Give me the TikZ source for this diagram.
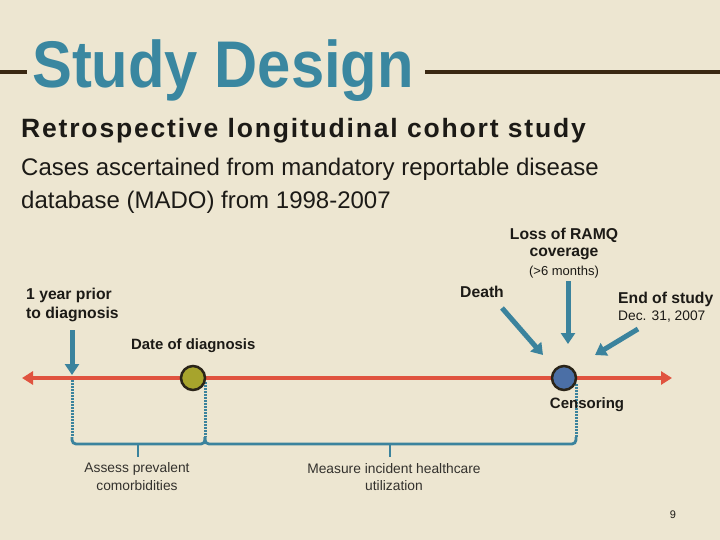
\documentclass[tikz,border=0pt]{standalone}
\usepackage{fontspec}
\setmainfont{Liberation Sans}
\usetikzlibrary{arrows.meta}
\definecolor{bg}{HTML}{EDE6D1}
\definecolor{teal1}{HTML}{3A87A0}
\definecolor{teal2}{HTML}{3B839D}
\definecolor{rule}{HTML}{3A2812}
\definecolor{red1}{HTML}{E0533F}
\definecolor{olive}{HTML}{A7A42C}
\definecolor{blue1}{HTML}{4B6FA6}
\definecolor{ring}{HTML}{2A2418}
\definecolor{ink}{HTML}{1C1A16}
\tikzset{
  lbl/.style={inner sep=0pt, text=ink, font=\bfseries\fontsize{15.7}{18}\selectfont},
  sml/.style={inner sep=0pt, text=ink, font=\fontsize{13.8}{16}\selectfont},
  ptr/.style={draw=teal2, line width=5pt, -{Triangle[width=14pt,length=11pt]}},
  dots/.style={draw=teal2, line width=3pt, dash pattern=on 2pt off 1pt},
  brace/.style={draw=teal2, line width=2.8pt, rounded corners=4pt},
  dot/.style={circle, minimum size=24pt, inner sep=0pt, draw=ring, line width=2.5pt}
}
\begin{document}
\begin{tikzpicture}[x=1pt,y=-1pt]
\fill[bg] (0,0) rectangle (720,540);
\useasboundingbox (0,0) rectangle (720,540);
% title
\node[anchor=base west, inner sep=0pt, text=teal1] (title) at (32,88)
  {\scalebox{0.905}[1]{\bfseries\fontsize{66}{70}\selectfont Study Design}};
\draw[rule, line width=4pt] (0,72) -- (27,72);
\draw[rule, line width=4pt] (425,72) -- (720,72);
% subtitle
\node[anchor=base west, inner sep=0pt, text=ink, font=\bfseries\fontsize{26.5}{30}\selectfont\addfontfeature{LetterSpace=6.9}] (sub) at (21,138) {Retrospective longitudinal cohort study};
\node[anchor=base west, inner sep=0pt, text=ink, font=\fontsize{24}{28}\selectfont] (cases1) at (21,176) {Cases ascertained from mandatory reportable disease};
\node[anchor=base west, inner sep=0pt, text=ink, font=\fontsize{24}{28}\selectfont] (cases2) at (21,209) {database (MADO) from 1998-2007};
% labels
\node[lbl] (loss1) at (564,235) {Loss of RAMQ};
\node[lbl] (loss2) at (564,254) {coverage};
\node[sml, font=\fontsize{13}{15}\selectfont] (loss3) at (564,272) {(>6 months)};
\node[lbl, anchor=west] (death) at (460,292) {Death};
\node[lbl, anchor=west] (end1) at (618,299) {End of study};
\node[sml, anchor=west] (end2) at (618,317) {Dec. 31, 2007};
\node[lbl, anchor=west] (yr1) at (26,295) {1 year prior};
\node[lbl, anchor=west] (yr2) at (26,314) {to diagnosis};
\node[lbl, anchor=west, font=\bfseries\fontsize{14.9}{17}\selectfont] (dod) at (131,346) {Date of diagnosis};
% timeline
\coordinate (tl) at (22,378);
\coordinate (tr) at (672,378);
\draw[red1, line width=4pt, {Triangle[width=13pt,length=11pt]}-{Triangle[width=13pt,length=11pt]}] (tl) -- (tr);
% pointer arrows
\coordinate (a1s) at (72,330); \coordinate (a1e) at (72,375);
\coordinate (a2s) at (502,308); \coordinate (a2e) at (543,355);
\coordinate (a3s) at (568,281); \coordinate (a3e) at (568,344);
\coordinate (a4s) at (638,329); \coordinate (a4e) at (595,355);
\draw[ptr] (a1s) -- (a1e);
\draw[ptr] (a2s) -- (a2e);
\draw[ptr] (a3s) -- (a3e);
\draw[ptr] (a4s) -- (a4e);
% dotted drops and braces
\coordinate (d1t) at (72,380); \coordinate (d1b) at (72,437);
\coordinate (d2t) at (205,382); \coordinate (d2b) at (205,437);
\coordinate (d3t) at (576,384); \coordinate (d3b) at (576,437);
\draw[dots] (d1t) -- (d1b);
\draw[dots] (d2t) -- (d2b);
\draw[dots] (d3t) -- (d3b);
\draw[brace] (d1b) -- (72,444) -- (205,444) -- (d2b);
\draw[brace] (d2b) -- (205,444) -- (576,444) -- (d3b);
\coordinate (k1) at (138,444); \coordinate (k1e) at (138,457);
\coordinate (k2) at (390,444); \coordinate (k2e) at (390,457);
\draw[draw=teal2, line width=2.8pt] (k1) -- (k1e);
\draw[draw=teal2, line width=2.8pt] (k2) -- (k2e);
% circles
\node[dot, fill=olive] (diag) at (193,378) {};
\node[dot, fill=blue1] (cens) at (564,378) {};
\node[lbl, font=\bfseries\fontsize{15}{18}\selectfont] (censlbl) at (587,405) {Censoring};
% bottom labels
\node[sml, text=ink!90] (as1) at (137,469) {Assess prevalent};
\node[sml, text=ink!90] (as2) at (137,486) {comorbidities};
\node[sml, text=ink!90] (me1) at (394,469) {Measure incident healthcare};
\node[sml, text=ink!90] (me2) at (394,486) {utilization};
\node[sml, font=\fontsize{11}{13}\selectfont] (pg) at (673,515) {9};
\end{tikzpicture}
\end{document}
